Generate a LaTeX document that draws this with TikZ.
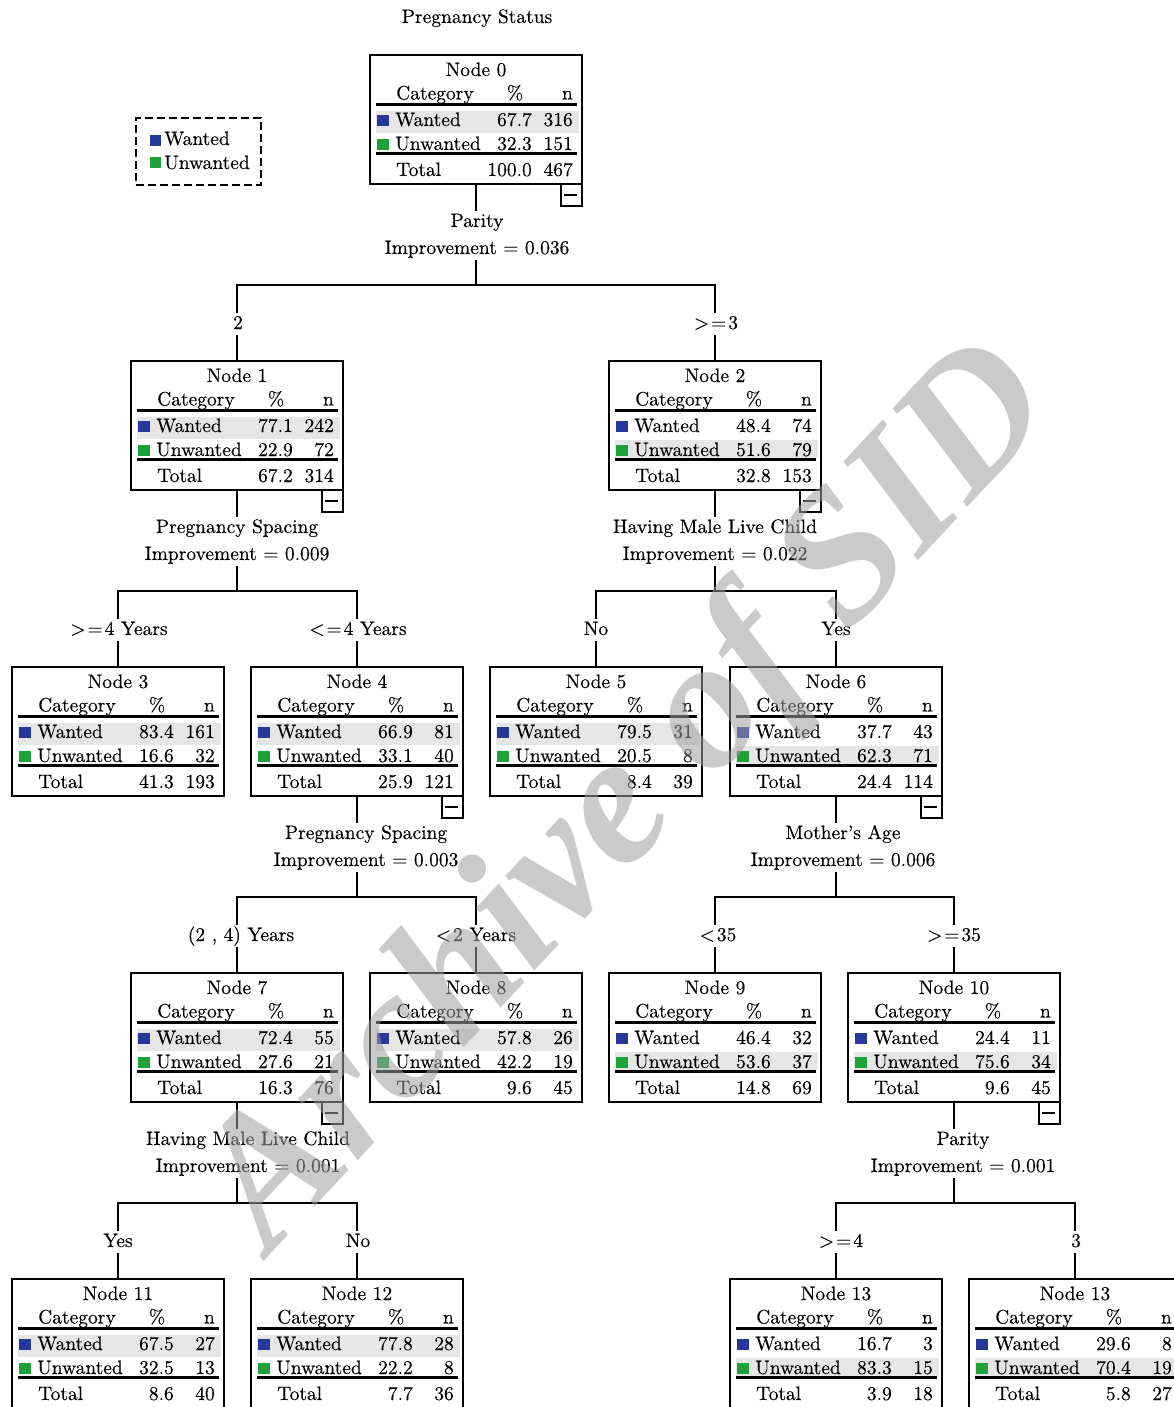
\documentclass[tikz,border=0pt]{standalone}
\usepackage{fontspec}
\setmainfont{lmroman10-regular}[Extension=.otf, FakeBold=0.25, Ligatures=TeX]
\newfontfamily\wmfamily{Liberation Serif}
\usetikzlibrary{calc}
\definecolor{wantc}{HTML}{26399B}
\definecolor{unwc}{HTML}{1DA238}
\definecolor{hlc}{HTML}{E6E6E6}
\definecolor{wmc}{HTML}{A0A0A0}
\newcommand\tfont{\fontsize{19.5}{23}\selectfont}
\tikzset{
  tbox/.style={draw, line width=2.2pt, minimum width=212pt, minimum height=129pt, inner sep=0pt, outer sep=0pt},
  tt/.style={inner sep=0pt, font=\tfont},
  rule/.style={line width=2.2pt},
  conn/.style={line width=2.2pt},
  lbl/.style={font=\tfont, inner xsep=2pt, inner ysep=2pt, text height=13.5pt, text depth=4pt},
  legbox/.style={draw, line width=2pt, dash pattern=on 8pt off 4pt, minimum width=125pt, minimum height=67pt, inner sep=0pt}
}
\newcommand\tnode[9]{\def\tnName{#1}\def\tnL{#2}\def\tnT{#3}\def\tnTitle{#4}\def\tnWp{#5}\def\tnWn{#6}\def\tnUp{#7}\def\tnUn{#8}\def\tnTp{#9}\tnodeB}
\newcommand\tnodeB[2]{%
  \ifnum#2=1
    \fill[hlc] (\tnL+6,\tnT+56) rectangle (\tnL+209,\tnT+78);
  \else
    \fill[hlc] (\tnL+6,\tnT+79) rectangle (\tnL+209,\tnT+97);
  \fi
  \node[tbox] (\tnName) at (\tnL+106,\tnT+64.5) {};
  \node[tt,anchor=base] at (\tnL+106,\tnT+21) {\tnTitle};
  \node[tt,anchor=base west] at (\tnL+26,\tnT+44.5) {Category};
  \node[tt,anchor=base] at (\tnL+145,\tnT+44.5) {\%};
  \node[tt,anchor=base east] at (\tnL+203,\tnT+44.5) {n};
  \draw[rule] (\tnL+6,\tnT+49.5) -- (\tnL+207,\tnT+49.5);
  \fill[wantc] (\tnL+7,\tnT+60) rectangle (\tnL+19,\tnT+71);
  \node[tt,anchor=base west] at (\tnL+25,\tnT+71) {Wanted};
  \node[tt,anchor=base east] at (\tnL+162,\tnT+71) {\tnWp};
  \node[tt,anchor=base east] at (\tnL+203,\tnT+71) {\tnWn};
  \fill[unwc] (\tnL+7,\tnT+84) rectangle (\tnL+19,\tnT+95);
  \node[tt,anchor=base west] at (\tnL+25,\tnT+95) {Unwanted};
  \node[tt,anchor=base east] at (\tnL+162,\tnT+95) {\tnUp};
  \node[tt,anchor=base east] at (\tnL+203,\tnT+95) {\tnUn};
  \draw[rule] (\tnL+6,\tnT+98.5) -- (\tnL+207,\tnT+98.5);
  \node[tt,anchor=base west] at (\tnL+26,\tnT+121) {Total};
  \node[tt,anchor=base east] at (\tnL+162,\tnT+121) {\tnTp};
  \node[tt,anchor=base east] at (\tnL+203,\tnT+121) {#1};
}
\newcommand\minusbox[1]{%
  \draw[line width=2.2pt] ([xshift=-21pt]#1.south east) rectangle ([yshift=-22pt]#1.south east);
  \draw[line width=2.4pt] ([xshift=-18pt,yshift=-11pt]#1.south east) -- ([xshift=-5pt,yshift=-11pt]#1.south east);
}
% split: id, parent, cx, T(parent), variable, improvement, label x offset
\newcommand\splitlabel[7]{%
  \node[lbl,anchor=base] (#1v) at (#3+#7,#4+172) {#5};
  \node[lbl,anchor=base] (#1i) at (#3+#7,#4+199) {Improvement = #6};
  \draw[conn] (#2.south) -- (#2.south |- #1v.north);
  \coordinate (#1j) at (#3,#4+230);
  \draw[conn] (#2.south |- #1i.south) -- (#1j);
}
% branch: split id, child, cx, T(parent), label, label x offset
\newcommand\branch[6]{%
  \node[lbl,anchor=base] (#1#2b) at (#3+#6,#4+274) {#5};
  \draw[conn] (#1j) -| (#1#2b.north -| #2.north);
  \draw[conn] (#1#2b.south -| #2.north) -- (#2.north);
}
\newcommand\myge{{>}\kern2pt{=}\kern2pt}
\newcommand\myle{{<}\kern2pt{=}\kern2pt}
\begin{document}
\begin{tikzpicture}[x=1pt,y=-1pt]
\useasboundingbox (0,0) rectangle (1174,1407);
\clip (0,0) rectangle (1174,1407);
\fill[white] (0,0) rectangle (1174,1407);

\node[tt,anchor=base] (title) at (477,23) {Pregnancy Status};

\node[legbox] (leg) at (198.5,151.5) {};
\fill[wantc] (150,135) rectangle (161,146);
\node[tt,anchor=base west] (legw) at (164,145) {Wanted};
\fill[unwc] (150,157) rectangle (161,168);
\node[tt,anchor=base west] (legu) at (164,169) {Unwanted};

\tnode{n0}{370}{55}{Node 0}{67.7}{316}{32.3}{151}{100.0}{467}{1}
\tnode{n1}{131}{361}{Node 1}{77.1}{242}{22.9}{72}{67.2}{314}{1}
\tnode{n2}{609}{361}{Node 2}{48.4}{74}{51.6}{79}{32.8}{153}{2}
\tnode{n3}{12}{667}{Node 3}{83.4}{161}{16.6}{32}{41.3}{193}{1}
\tnode{n4}{251}{667}{Node 4}{66.9}{81}{33.1}{40}{25.9}{121}{1}
\tnode{n5}{490}{667}{Node 5}{79.5}{31}{20.5}{8}{8.4}{39}{1}
\tnode{n6}{730}{667}{Node 6}{37.7}{43}{62.3}{71}{24.4}{114}{2}
\tnode{n7}{131}{973}{Node 7}{72.4}{55}{27.6}{21}{16.3}{76}{1}
\tnode{n8}{370}{973}{Node 8}{57.8}{26}{42.2}{19}{9.6}{45}{1}
\tnode{n9}{609}{973}{Node 9}{46.4}{32}{53.6}{37}{14.8}{69}{2}
\tnode{n10}{848}{973}{Node 10}{24.4}{11}{75.6}{34}{9.6}{45}{2}
\tnode{n11}{12}{1279}{Node 11}{67.5}{27}{32.5}{13}{8.6}{40}{1}
\tnode{n12}{251}{1279}{Node 12}{77.8}{28}{22.2}{8}{7.7}{36}{1}
\tnode{n13}{730}{1279}{Node 13}{16.7}{3}{83.3}{15}{3.9}{18}{2}
\tnode{n14}{969}{1279}{Node 13}{29.6}{8}{70.4}{19}{5.8}{27}{2}

\minusbox{n0}\minusbox{n1}\minusbox{n2}\minusbox{n4}\minusbox{n6}\minusbox{n7}\minusbox{n10}

\splitlabel{s0}{n0}{476}{55}{Parity}{0.036}{1}
\branch{s0}{n1}{237}{55}{2}{1}
\branch{s0}{n2}{715}{55}{\myge3}{1}

\splitlabel{s1}{n1}{237}{361}{Pregnancy Spacing}{0.009}{0}
\branch{s1}{n3}{118}{361}{\myge4 Years}{1}
\branch{s1}{n4}{357}{361}{\myle4 Years}{1}

\splitlabel{s2}{n2}{715}{361}{Having Male Live Child}{0.022}{0}
\branch{s2}{n5}{596}{361}{No}{0}
\branch{s2}{n6}{836}{361}{Yes}{0}

\splitlabel{s4}{n4}{357}{667}{Pregnancy Spacing}{0.003}{9}
\branch{s4}{n7}{237}{667}{(2 , 4) Years}{4}
\branch{s4}{n8}{476}{667}{{<}\kern2pt2 Years}{0}

\splitlabel{s6}{n6}{836}{667}{Mother's Age}{0.006}{7}
\branch{s6}{n9}{715}{667}{{<}\kern2pt35}{3}
\branch{s6}{n10}{954}{667}{\myge35}{0}

\splitlabel{s7}{n7}{237}{973}{Having Male Live Child}{0.001}{11}
\branch{s7}{n11}{118}{973}{Yes}{0}
\branch{s7}{n12}{357}{973}{No}{1}

\splitlabel{s10}{n10}{954}{973}{Parity}{0.001}{9}
\branch{s10}{n13}{836}{973}{\myge4}{5}
\branch{s10}{n14}{1075}{973}{3}{1}

\node[rotate=47, text=wmc, opacity=0.55, inner sep=0pt,
      font={\wmfamily\bfseries\itshape\fontsize{186}{186}\selectfont}] (wm) at (632,800) {Archive of SID};
\end{tikzpicture}
\end{document}
